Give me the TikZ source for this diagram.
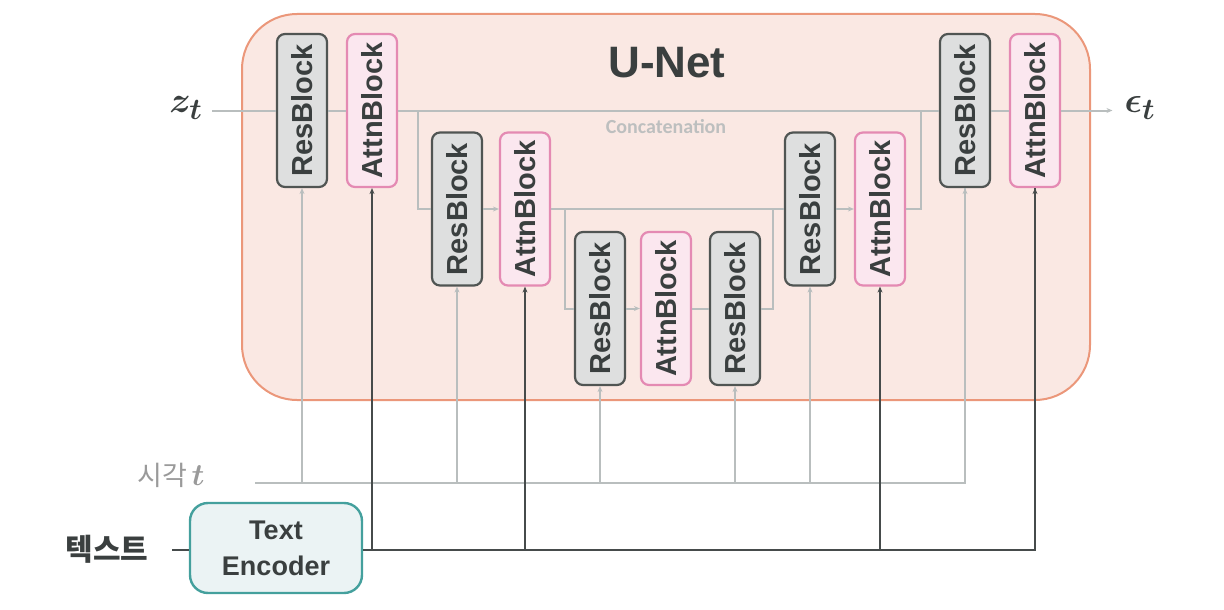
\documentclass[tikz,border=0pt]{standalone}
\usepackage{fontspec}
\setmainfont{Liberation Sans}
\newfontfamily\krfont{Noto Sans CJK KR}
\newfontfamily\concfont{Carlito}
\usetikzlibrary{arrows.meta}
\definecolor{unetfill}{HTML}{FAE8E3}
\definecolor{unetdraw}{HTML}{EB977A}
\definecolor{gline}{HTML}{B9BEBE}
\definecolor{dline}{HTML}{464B4B}
\definecolor{rbfill}{HTML}{DEDFDF}
\definecolor{rbdraw}{HTML}{505553}
\definecolor{abfill}{HTML}{FBE7EF}
\definecolor{abdraw}{HTML}{E48AB3}
\definecolor{encfill}{HTML}{EBF3F4}
\definecolor{encdraw}{HTML}{44A09D}
\definecolor{txtc}{HTML}{3A3F3F}
\definecolor{timec}{HTML}{9A9A9A}
\definecolor{concc}{HTML}{BDBFBF}
\tikzset{
  rbox/.style={draw=rbdraw, fill=rbfill, line width=2.2pt, rounded corners=8pt,
    minimum width=50pt, minimum height=153pt, inner sep=0pt,
    font=\fontsize{29}{30}\selectfont\bfseries, text=txtc},
  abox/.style={draw=abdraw, fill=abfill, line width=2.2pt, rounded corners=8pt,
    minimum width=50pt, minimum height=153pt, inner sep=0pt,
    font=\fontsize{29}{30}\selectfont\bfseries, text=txtc},
  gl/.style={draw=gline, line width=2pt},
  ga/.style={draw=gline, line width=2pt, -{Stealth[length=6pt,width=5pt]}},
  dl/.style={draw=dline, line width=2.6pt},
  da/.style={draw=dline, line width=2.6pt, -{Stealth[length=6pt,width=5pt]}},
}
\begin{document}
\begin{tikzpicture}[x=1pt,y=-1pt]
\useasboundingbox (0,0) rectangle (1224,610);
% container
\node[draw=unetdraw, fill=unetfill, line width=2pt, rounded corners=55pt,
  minimum width=848pt, minimum height=386pt, inner sep=0pt] (unet) at (666,207) {};
\node[font=\fontsize{44}{48}\selectfont\bfseries, text=txtc] (title) at (667,63) {U-Net};
\node[font=\concfont\fontsize{20}{22}\selectfont\bfseries, text=concc] (concat) at (666,127) {Concatenation};

% blocks
\node[rbox] (R1) at (302,110.5) {\rotatebox{90}{ResBlock}};
\node[abox] (A1) at (372,110.5) {\rotatebox{90}{AttnBlock}};
\node[rbox] (R2) at (457,209) {\rotatebox{90}{ResBlock}};
\node[abox] (A2) at (525,209) {\rotatebox{90}{AttnBlock}};
\node[rbox] (R3) at (600,308.5) {\rotatebox{90}{ResBlock}};
\node[abox] (A3) at (666,308.5) {\rotatebox{90}{AttnBlock}};
\node[rbox] (R4) at (735,308.5) {\rotatebox{90}{ResBlock}};
\node[rbox] (R5) at (810,209) {\rotatebox{90}{ResBlock}};
\node[abox] (A5) at (880,209) {\rotatebox{90}{AttnBlock}};
\node[rbox] (R6) at (965,110.5) {\rotatebox{90}{ResBlock}};
\node[abox] (A6) at (1035,110.5) {\rotatebox{90}{AttnBlock}};

% labels
\node[font=\fontsize{24.88}{28}\selectfont, text=txtc, inner sep=0pt] (zt) at (186,108) {\scalebox{1.45}{\boldmath$z_t$}};
\node[font=\fontsize{24.88}{28}\selectfont, text=txtc, inner sep=0pt] (et) at (1140,108) {\scalebox{1.45}{\boldmath$\epsilon_t$}};
\node[font=\fontsize{27}{30}\selectfont, text=timec, anchor=east] (time) at (208,475) {{\krfont 시각}\,{\fontsize{24.88}{28}\selectfont\scalebox{1.25}{\boldmath$t$}}};
\node[font=\krfont\fontsize{30}{32}\selectfont\bfseries, text=txtc, anchor=east] (text) at (152,549) {텍스트};
\node[draw=encdraw, fill=encfill, line width=2.4pt, rounded corners=18pt,
  minimum width=172pt, minimum height=90pt, inner sep=0pt, align=center,
  font=\fontsize{27}{36}\selectfont\bfseries, text=txtc] (enc) at (276,548) {Text\\Encoder};

% coordinates
\coordinate (j1) at (418,110.5);
\coordinate (j2) at (565,209);
\coordinate (j3) at (773,209);
\coordinate (j4) at (921,110.5);
\coordinate (zstart) at (212,110.5);
\coordinate (tstart) at (255,483);
\coordinate (ystart) at (172,550);

% main path
\draw[gl] (zstart) -- (R1.west);
\draw[gl] (R1.east) -- (A1.west);
\draw[gl] (A1.east) -- (R6.west);
\draw[gl] (j1) |- (R2.west);
\draw[ga] (R2.east) -- (A2.west);
\draw[gl] (A2.east) -- (R5.west);
\draw[gl] (j2) |- (R3.west);
\draw[ga] (R3.east) -- (A3.west);
\draw[gl] (A3.east) -- (R4.west);
\draw[gl] (R4.east) -| (j3);
\draw[ga] (R5.east) -- (A5.west);
\draw[gl] (A5.east) -| (j4);
\draw[gl] (R6.east) -- (A6.west);
\draw[ga] (A6.east) -- ([xshift=-12pt]et.west |- A6.east);

% time line
\draw[gl] (tstart) -| (R6.south);
\foreach \n in {R1,R2,R3,R4,R5,R6}{
  \draw[ga] (\n.south |- tstart) -- (\n.south);
}
% text line
\draw[dl] (ystart) -- (enc.west |- ystart);
\draw[dl] (enc.east |- ystart) -| (A6.south);
\foreach \n in {A1,A2,A5,A6}{
  \draw[da] (\n.south |- ystart) -- (\n.south);
}
\end{tikzpicture}
\end{document}
